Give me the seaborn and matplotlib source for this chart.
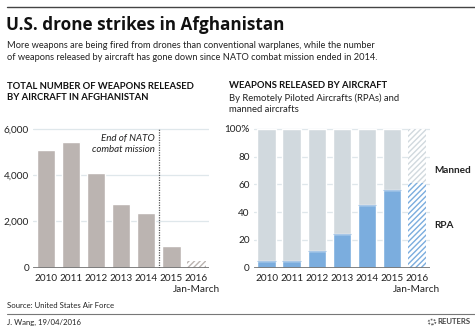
import matplotlib
matplotlib.use("Agg")
import matplotlib.pyplot as plt
import seaborn as sns
import pandas as pd

sns.set_theme(style="white")
plt.rcParams["font.family"] = ["Lato", "DejaVu Sans"]
plt.rcParams["hatch.linewidth"] = 1.0

# Data
years = ["2010", "2011", "2012", "2013", "2014", "2015", "2016"]
last_period_note = "Jan-March"
weapons_released = [5100, 5420, 4090, 2750, 2370, 940, 300]
rpa_share = [5, 5, 12, 24, 45, 56, 61]
manned_share = [100 - v for v in rpa_share]
left_ticks = [0, 2000, 4000, 6000]
left_tick_labels = ["0", "2,000", "4,000", "6,000"]
right_ticks = [0, 20, 40, 60, 80, 100]
right_tick_labels = ["0", "20", "40", "60", "80", "100%"]

GREY_BAR = "#bbb4b1"
RPA_BLUE = "#7badde"
MANNED = "#d1d9de"
GRID = "#dfe7eb"
BASE = "#767676"
TEXT = "#222222"

W, H = 475, 329
fig = plt.figure(figsize=(W / 100, H / 100), dpi=100)


def fx(px):
    return px / W


def fy(py):
    return 1 - py / H


ax1 = fig.add_axes([fx(33.3), fy(267.7), fx(209 - 33.3), (267.7 - 128.3) / H])
ax2 = fig.add_axes([fx(254), fy(267.7), fx(429.5 - 254), (267.7 - 128.3) / H])

df_total = pd.DataFrame({"year": years, "weapons": weapons_released})
df_share = pd.DataFrame({"year": years, "rpa": rpa_share, "manned": manned_share,
                         "total": [r + m for r, m in zip(rpa_share, manned_share)]})

# Left panel: total weapons released
sns.barplot(data=df_total, x="year", y="weapons", color=GREY_BAR, width=0.73,
            saturation=1, ax=ax1, zorder=2)
last = ax1.patches[-1]
last.set_facecolor("white")
last.set_edgecolor(GREY_BAR)
last.set_hatch("//////")
last.set_linewidth(0)

# Right panel: stacked shares (manned on top of RPA)
sns.barplot(data=df_share, x="year", y="total", color=MANNED, width=0.73,
            saturation=1, ax=ax2, zorder=2)
sns.barplot(data=df_share, x="year", y="rpa", color=RPA_BLUE, width=0.73,
            saturation=1, ax=ax2, zorder=3)
n = len(years)
manned_last = ax2.patches[n - 1]
manned_last.set_facecolor("white")
manned_last.set_edgecolor(MANNED)
manned_last.set_hatch("//////")
manned_last.set_linewidth(0)
rpa_last = ax2.patches[2 * n - 1]
rpa_last.set_facecolor("white")
rpa_last.set_edgecolor(RPA_BLUE)
rpa_last.set_hatch("//////")
rpa_last.set_linewidth(0)
# light top edge on the RPA segments
for p in ax2.patches[n:2 * n - 1]:
    x0 = p.get_x()
    ax2.plot([x0, x0 + p.get_width()], [p.get_height(), p.get_height()],
             color="#a9c8e8", lw=0.8, zorder=4, solid_capstyle="butt")

for ax, ticks, labels, top in [(ax1, left_ticks, left_tick_labels, 6000),
                               (ax2, right_ticks, right_tick_labels, 100)]:
    ax.set_xlim(-0.5, n - 0.5)
    ax.set_ylim(0, top * 1.004)
    ax.set_yticks(ticks)
    ax.set_yticklabels(labels)
    ax.set_xlabel("")
    ax.set_ylabel("")
    for s in ax.spines.values():
        s.set_visible(False)
    for t in ticks[1:]:
        ax.axhline(t, color=GRID, lw=0.9, zorder=1)
    ax.axhline(0, color=BASE, lw=2.0, zorder=5)
    ax.tick_params(axis="both", length=0, labelsize=7.2, colors=TEXT)
    ax.tick_params(axis="x", pad=4.5)
    ax.tick_params(axis="y", pad=3)
    ax.set_facecolor("none")
    # note under the partial-year label
    ax.text(n - 1, -0.155, last_period_note, transform=ax.get_xaxis_transform(),
            ha="center", va="center", fontsize=7.2, color=TEXT)

# NATO mission end marker
ax1.axvline(4.5, color="#555555", lw=0.9, ls=(0, (1, 1)), zorder=6)
ax1.text(4.35, 5760, "End of NATO\ncombat mission", ha="right", va="top",
         fontsize=7, style="italic", color=TEXT, linespacing=1.25)

ax2.text(1.025, 0.7, "Manned", transform=ax2.transAxes, ha="left", va="center",
         fontsize=7.2, fontweight="bold", color=TEXT)
ax2.text(1.025, 0.305, "RPA", transform=ax2.transAxes, ha="left", va="center",
         fontsize=7.2, fontweight="bold", color=TEXT)

# Header
fig.add_artist(plt.Line2D([fx(7), 1], [fy(7.3), fy(7.3)], color="#444444", lw=1.0))
fig.text(fx(6), fy(25.5), "U.S. drone strikes in Afghanistan", fontsize=12.3,
         fontweight="bold", color="#111111", va="center", family=["Open Sans", "DejaVu Sans"])
fig.text(fx(7), fy(51.5),
         "More weapons are being fired from drones than conventional warplanes, while the number\n"
         "of weapons released by aircraft has gone down since NATO combat mission ended in 2014.",
         fontsize=6.7, color=TEXT, va="center", linespacing=1.3)

fig.text(fx(7), fy(92), "TOTAL NUMBER OF WEAPONS RELEASED\nBY AIRCRAFT IN AFGHANISTAN",
         fontsize=6.8, fontweight="bold", color="#111111", va="center", linespacing=1.3)
fig.text(fx(229), fy(86), "WEAPONS RELEASED BY AIRCRAFT",
         fontsize=6.8, fontweight="bold", color="#111111", va="center")
fig.text(fx(229), fy(104), "By Remotely Piloted Aircrafts (RPAs) and\nmanned aircrafts",
         fontsize=6.8, color=TEXT, va="center", linespacing=1.3)

# Footer
fig.text(fx(7), fy(306), "Source: United States Air Force", fontsize=5.6, color=TEXT, va="center")
fig.add_artist(plt.Line2D([fx(7), 1], [fy(314), fy(314)], color="#777777", lw=0.8))
fig.text(fx(7), fy(322), "J. Wang, 19/04/2016", fontsize=5.6, color=TEXT, va="center")
fig.text(fx(471), fy(322), "REUTERS", fontsize=5.6, fontweight="bold", color="#444444",
         va="center", ha="right")
fig.add_artist(plt.Circle((fx(432), fy(322)), 3.5 / W, transform=fig.transFigure,
                          facecolor="none", edgecolor="#666666", lw=1.2, ls=(0, (1, 0.8))))

fig.savefig("out.png", dpi=100, facecolor="white")
